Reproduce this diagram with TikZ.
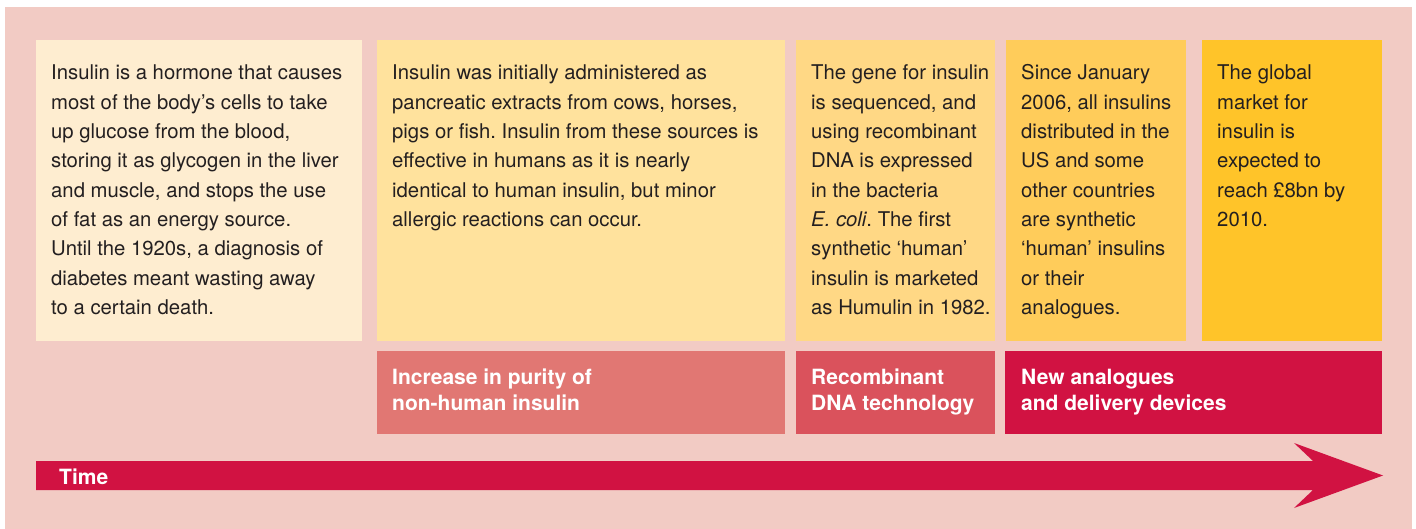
\documentclass[tikz,border=0pt]{standalone}
\usepackage{fontspec}
\setmainfont{TeX Gyre Heros}
\frenchspacing
\begin{document}
\begin{tikzpicture}[x=1pt,y=-1pt,
  box/.style={anchor=north west,inner sep=0pt,outer sep=0pt},
  body/.style={anchor=base west,inner sep=0pt,align=left,text=txt,
    font=\fontsize{20.3}{29.3}\selectfont},
  lab/.style={anchor=base west,inner sep=0pt,align=left,text=white,
    font=\fontsize{21}{26}\selectfont\bfseries}]
\definecolor{bg}{HTML}{F2CBC4}
\definecolor{c1}{HTML}{FEEDD0}
\definecolor{c2}{HTML}{FFE29D}
\definecolor{c3}{HTML}{FFD885}
\definecolor{c4}{HTML}{FFCC5A}
\definecolor{c5}{HTML}{FFC429}
\definecolor{r1}{HTML}{E17773}
\definecolor{r2}{HTML}{DA525C}
\definecolor{r3}{HTML}{D11242}
\definecolor{txt}{HTML}{231F20}
\useasboundingbox (0,0) rectangle (1416,529);
\fill[white] (0,0) rectangle (1416,529);
\fill[bg] (5,7) rectangle (1412,529);
% top boxes
\node[box,fill=c1,minimum width=326pt,minimum height=301pt] (b1) at (36,40) {};
\node[box,fill=c2,minimum width=408pt,minimum height=301pt] (b2) at (377,40) {};
\node[box,fill=c3,minimum width=199pt,minimum height=301pt] (b3) at (796,40) {};
\node[box,fill=c4,minimum width=180pt,minimum height=301pt] (b4) at (1006,40) {};
\node[box,fill=c5,minimum width=180pt,minimum height=301pt] (b5) at (1202,40) {};
% bottom boxes
\node[box,fill=r1,minimum width=408pt,minimum height=83pt] (p1) at (377,351) {};
\node[box,fill=r2,minimum width=199pt,minimum height=83pt] (p2) at (796,351) {};
\node[box,fill=r3,minimum width=377pt,minimum height=83pt] (p3) at (1005,351) {};
% texts (anchored at the baseline of their last line)
\node[body] (t1) at (51,314.4) {Insulin is a hormone that causes\\most of the body’s cells to take\\up glucose from the blood,\\storing it as glycogen in the liver\\and muscle, and stops the use\\of fat as an energy source.\\Until the 1920s, a diagnosis of\\diabetes meant wasting away\\to a certain death.};
\node[body] (t2) at (392,226.5) {Insulin was initially administered as\\pancreatic extracts from cows, horses,\\pigs or fish. Insulin from these sources is\\effective in humans as it is nearly\\identical to human insulin, but minor\\allergic reactions can occur.};
\node[body] (t3) at (811,314.4) {The gene for insulin\\is sequenced, and\\using recombinant\\DNA is expressed\\in the bacteria\\\textit{E. coli}. The first\\synthetic ‘human’\\insulin is marketed\\as Humulin in 1982.};
\node[body] (t4) at (1021,314.4) {Since January\\2006, all insulins\\distributed in the\\US and some\\other countries\\are synthetic\\‘human’ insulins\\or their\\analogues.};
\node[body] (t5) at (1217,226.5) {The global\\market for\\insulin is\\expected to\\reach £8bn by\\2010.};
\node[lab] (l1) at (392,410) {Increase in purity of\\non-human insulin};
\node[lab] (l2) at (811,410) {Recombinant\\DNA technology};
\node[lab] (l3) at (1021,410) {New analogues\\and delivery devices};
% time arrow
\fill[r3] (36,461) -- (1313,461) -- (1294,443) -- (1383,475.5) -- (1294,508) -- (1313,490) -- (36,490) -- cycle;
\node[lab] (time) at (59,484) {Time};
\end{tikzpicture}
\end{document}
